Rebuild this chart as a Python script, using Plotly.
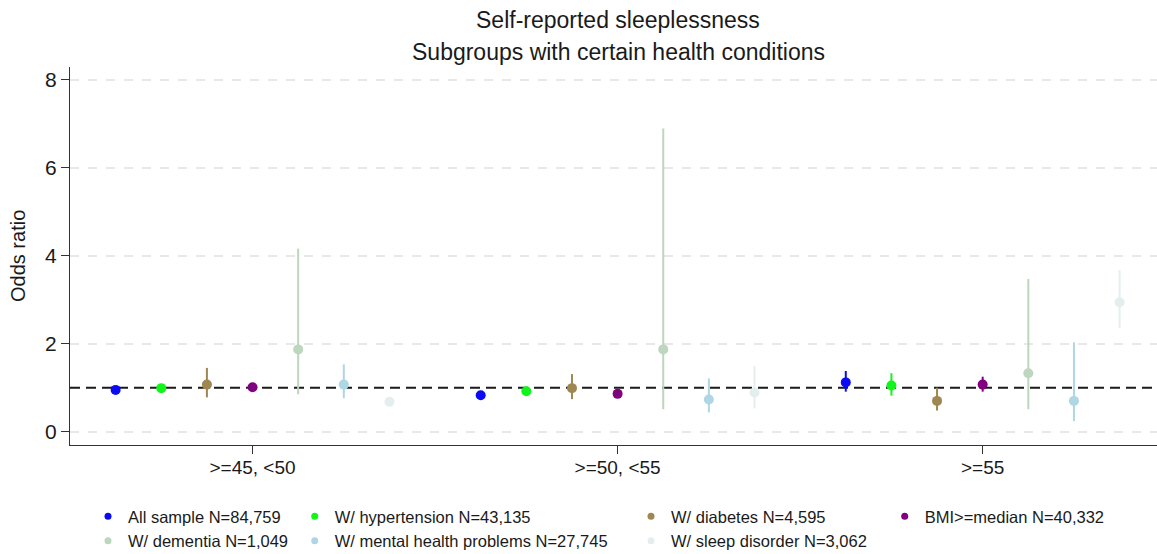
import plotly.graph_objects as go

# Age groups on the x axis
age_groups = [">=45, <50", ">=50, <55", ">=55"]

# Subgroup labels (legend text)
subgroups = [
    "All sample N=84,759",
    "W/ hypertension N=43,135",
    "W/ diabetes N=4,595",
    "BMI>=median N=40,332",
    "W/ dementia N=1,049",
    "W/ mental health problems N=27,745",
    "W/ sleep disorder N=3,062",
]

# Odds ratios and 95% CI bounds, one list per subgroup (ordered by age group)
or_all = [0.95, 0.83, 1.12]
lo_all = [0.90, 0.79, 0.91]
hi_all = [1.00, 0.88, 1.38]

or_htn = [0.99, 0.92, 1.05]
lo_htn = [0.93, 0.86, 0.82]
hi_htn = [1.06, 0.99, 1.33]

or_dia = [1.07, 0.99, 0.70]
lo_dia = [0.78, 0.74, 0.48]
hi_dia = [1.45, 1.31, 1.00]

or_bmi = [1.01, 0.86, 1.07]
lo_bmi = [0.94, 0.80, 0.91]
hi_bmi = [1.09, 0.93, 1.25]

or_dem = [1.87, 1.87, 1.33]
lo_dem = [0.85, 0.51, 0.51]
hi_dem = [4.16, 6.89, 3.47]

or_mh = [1.07, 0.73, 0.70]
lo_mh = [0.76, 0.44, 0.24]
hi_mh = [1.53, 1.21, 2.03]

or_slp = [0.68, 0.89, 2.94]
lo_slp = [0.62, 0.53, 2.36]
hi_slp = [0.75, 1.49, 3.67]

estimates = [or_all, or_htn, or_dia, or_bmi, or_dem, or_mh, or_slp]
lowers = [lo_all, lo_htn, lo_dia, lo_bmi, lo_dem, lo_mh, lo_slp]
uppers = [hi_all, hi_htn, hi_dia, hi_bmi, hi_dem, hi_mh, hi_slp]

colors = ["#0a0af5", "#10f51a", "#9e8750", "#800080", "#bdd6be", "#aed6e4", "#e4eeee"]

# legend column each subgroup goes into
legend_ids = ["legend", "legend2", "legend3", "legend4", "legend", "legend2", "legend3"]

FONT = "Liberation Sans, Arial, sans-serif"
GROUP_STEP = 8  # slots per age group; subgroups occupy offsets -3..3

fig = go.Figure()

n_sub = len(subgroups)
for i in range(n_sub):
    offset = i - (n_sub - 1) // 2
    xs = [g * GROUP_STEP + offset for g in range(len(age_groups))]
    est = estimates[i]
    plus = [h - e for h, e in zip(uppers[i], est)]
    minus = [e - l for e, l in zip(est, lowers[i])]
    fig.add_trace(go.Scatter(
        x=xs, y=est, mode="markers",
        marker=dict(color=colors[i], size=10),
        error_y=dict(type="data", array=plus, arrayminus=minus,
                     color=colors[i], thickness=2, width=0),
        showlegend=False, name=subgroups[i],
    ))
    # legend entry with a small dot
    fig.add_trace(go.Scatter(
        x=[None], y=[None], mode="markers",
        marker=dict(color=colors[i], size=7),
        name=subgroups[i], showlegend=True, legend=legend_ids[i],
    ))

# reference line at OR = 1
fig.add_shape(type="line", xref="paper", x0=0, x1=1, yref="y", y0=1, y1=1,
              line=dict(color="#1a1a1a", width=2, dash="10px,6px"), layer="between")

plot_left, plot_width = 70, 1087
plot_top, plot_height = 67, 378


def px_x(p):
    return (p - plot_left) / plot_width


def px_y(p):
    return 1 - (p - plot_top) / plot_height


legend_common = dict(orientation="v", xanchor="left", yanchor="top",
                     font=dict(family=FONT, size=16.5, color="#1a1a1a"),
                     bgcolor="rgba(0,0,0,0)", borderwidth=0, tracegroupgap=0)
legend_y = px_y(499)
fig.update_layout(
    legend=dict(x=px_x(88), y=legend_y, **legend_common),
    legend2=dict(x=px_x(294.7), y=legend_y, **legend_common),
    legend3=dict(x=px_x(631), y=legend_y, **legend_common),
    legend4=dict(x=px_x(884.7), y=legend_y, **legend_common),
)

# titles
fig.add_annotation(text="Self-reported sleeplessness", xref="paper", yref="paper",
                   x=px_x(618), y=px_y(20), xanchor="center", yanchor="middle",
                   showarrow=False, font=dict(family=FONT, size=23, color="#1a1a1a"))
fig.add_annotation(text="Subgroups with certain health conditions", xref="paper", yref="paper",
                   x=px_x(618), y=px_y(52), xanchor="center", yanchor="middle",
                   showarrow=False, font=dict(family=FONT, size=23, color="#1a1a1a"))
fig.add_annotation(text="Odds ratio", xref="paper", yref="paper",
                   x=px_x(18), y=px_y(256), xanchor="center", yanchor="middle",
                   textangle=-90, showarrow=False,
                   font=dict(family=FONT, size=20, color="#1a1a1a"))

fig.update_xaxes(
    range=[-4, 19.82], tickmode="array",
    tickvals=[g * GROUP_STEP for g in range(len(age_groups))], ticktext=age_groups,
    ticks="outside", ticklen=8, tickcolor="#333", showgrid=False, zeroline=False,
    showline=True, linecolor="#333", linewidth=1, ticklabelstandoff=-3,
    tickfont=dict(family=FONT, size=19, color="#1a1a1a"),
)
fig.update_yaxes(
    range=[-0.302, 8.286], tickmode="array", tickvals=[0, 2, 4, 6, 8],
    ticks="outside", ticklen=8, tickcolor="#333",
    showgrid=True, gridcolor="#e8e8e8", gridwidth=1.5, griddash="dash",
    zeroline=False, showline=True, linecolor="#333", linewidth=1,
    tickfont=dict(family=FONT, size=21, color="#1a1a1a"),
)

fig.update_layout(
    width=1157, height=554,
    margin=dict(l=plot_left, r=0, t=plot_top, b=554 - plot_top - plot_height,
                autoexpand=False),
    plot_bgcolor="white", paper_bgcolor="white",
    font=dict(family=FONT),
)

fig.write_html("out.html")
